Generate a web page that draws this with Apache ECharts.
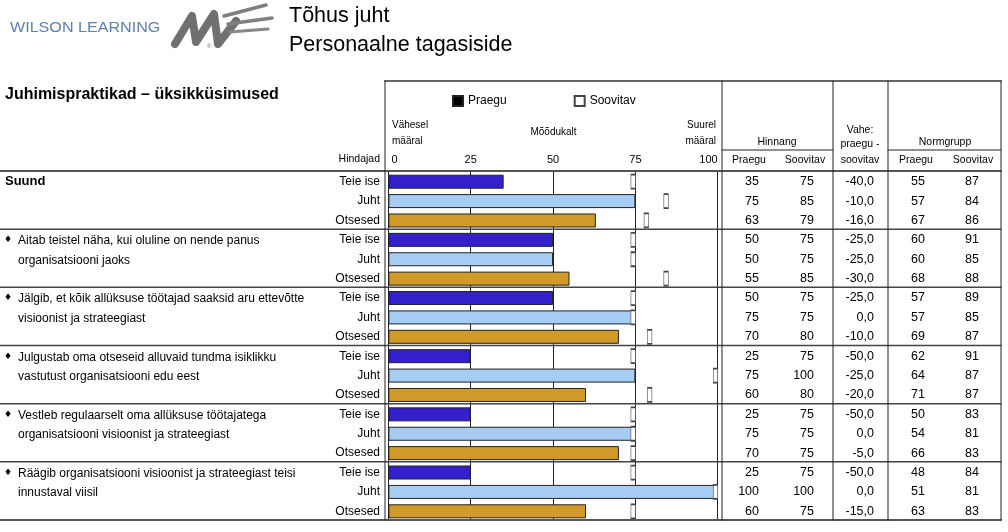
<!DOCTYPE html>
<html><head><meta charset="utf-8">
<script src="https://cdn.jsdelivr.net/npm/echarts@6.0.0/dist/echarts.min.js"></script>
<style>html,body{margin:0;padding:0;background:#fff}#c{width:1008px;height:532px}</style>
</head><body><div id="c"></div>
<script>
// ---- data ----
const raters = ['Teie ise', 'Juht', 'Otsesed'];
const groupTitles = [
  ['Suund'],
  ['Aitab teistel näha, kui oluline on nende panus', 'organisatsiooni jaoks'],
  ['Jälgib, et kõik allüksuse töötajad saaksid aru ettevõtte', 'visioonist ja strateegiast'],
  ['Julgustab oma otseseid alluvaid tundma isiklikku', 'vastutust organisatsiooni edu eest'],
  ['Vestleb regulaarselt oma allüksuse töötajatega', 'organisatsiooni visioonist ja strateegiast'],
  ['Räägib organisatsiooni visioonist ja strateegiast teisi', 'innustaval viisil']
];
const praegu      = [35, 75, 63,  50, 50, 55,  50, 75, 70,  25, 75, 60,  25, 75, 70,  25, 100, 60];
const soovitav    = [75, 85, 79,  75, 75, 85,  75, 75, 80,  75, 100, 80, 75, 75, 75,  75, 100, 75];
const vahe        = [-40, -10, -16, -25, -25, -30, -25, 0, -10, -50, -25, -20, -50, 0, -5, -50, 0, -15];
const normPraegu  = [55, 57, 67,  60, 60, 68,  57, 57, 69,  62, 64, 71,  50, 54, 66,  48, 51, 63];
const normSoovitav= [87, 84, 86,  91, 85, 88,  89, 85, 87,  91, 87, 87,  83, 81, 83,  84, 81, 83];
const xTickInterval = 25;
const raterColors = ['#3320cc', '#a7cdf5', '#d29a28'];

// ---- layout ----
const FONT = 'Liberation Sans, Arial, sans-serif';
const gridLeft = 388.4, gridWidth = 329.3, gridTop = 172, gridHeight = 349;
const gridRight = gridLeft + gridWidth;
const nRows = praegu.length;
const rowH = gridHeight / nRows;
const rowY = i => gridTop + (i + 0.5) * rowH;
const tableTop = 171, groupH = (520 - 171) / 6;

const rowIds = praegu.map((_, i) => String(i));

function colAxis(arr, rightX, fmt) {
  return {
    type: 'category', data: rowIds, inverse: true, gridIndex: 0,
    position: 'right', offset: 0,
    axisLine: {show: false}, axisTick: {show: false}, splitLine: {show: false},
    axisLabel: {
      interval: 0, margin: rightX - gridRight, align: 'right',
      fontSize: 12.5, fontFamily: FONT, color: '#000',
      formatter: (v, i) => fmt ? fmt(arr[i]) : String(arr[i])
    }
  };
}
const fmtVahe = v => v.toFixed(1).replace('.', ',');

const graphic = [];
function line(x1, y1, x2, y2, w, c) {
  graphic.push({type: 'line', silent: true, shape: {x1, y1, x2, y2}, style: {stroke: c, lineWidth: w, lineCap: 'round'}, z: 10});
}
function text(t, x, y, size, opts) {
  opts = opts || {};
  graphic.push({type: 'text', silent: true, x, y, scaleX: opts.scaleX || 1, z: 11, style: {
    text: t, fontSize: size, fontFamily: opts.family || FONT, fontWeight: opts.weight || 'normal',
    fill: opts.color || '#000', align: opts.align || 'left', verticalAlign: 'middle'
  }});
}

// logo
text('WILSON LEARNING', 10, 28, 14, {color: '#5e80a8', scaleX: 1.15});
graphic.push({type: 'polyline', silent: true, shape: {points: [[175,44],[192,16],[196,42],[214,14],[218,44],[236,21]]},
  style: {stroke: '#707070', lineWidth: 8, lineJoin: 'round', lineCap: 'round', fill: null}});
line(224, 16, 266, 5, 3.5, '#808080');
line(228, 24, 272, 18, 3.5, '#808080');
line(230, 32, 268, 29, 3, '#888');
text('®', 207, 46, 6, {color: '#777'});
// titles
text('Tõhus juht', 289, 16.5, 21.5);
text('Personaalne tagasiside', 289, 45, 21.5);
text('Juhimispraktikad – üksikküsimused', 5, 95, 16, {weight: 'bold'});

// header texts
text('Vähesel', 392, 125, 10);
text('määral', 392, 141, 10);
text('Mõõdukalt', 553.5, 132, 10, {align: 'center'});
text('Suurel', 716, 125, 10, {align: 'right'});
text('määral', 716, 141, 10, {align: 'right'});
text('Hindajad', 380, 159, 10.5, {align: 'right'});
text('Hinnang', 777, 142, 10.5, {align: 'center'});
text('Praegu', 749, 160, 10.5, {align: 'center'});
text('Soovitav', 805, 160, 10.5, {align: 'center'});
text('Vahe:', 860, 130, 10.5, {align: 'center'});
text('praegu -', 860, 144, 10.5, {align: 'center'});
text('soovitav', 860, 160, 10.5, {align: 'center'});
text('Normgrupp', 945, 142, 10.5, {align: 'center'});
text('Praegu', 916, 160, 10.5, {align: 'center'});
text('Soovitav', 973, 160, 10.5, {align: 'center'});

// group titles
groupTitles.forEach((lines, g) => {
  if (g === 0) {
    text(lines[0], 5, rowY(0), 13, {weight: 'bold'});
  } else {
    text('♦', 4, rowY(g * 3), 9, {family: 'DejaVu Sans'});
    lines.forEach((ln, k) => text(ln, 18, rowY(g * 3 + k) + 1, 12));
  }
});

// table lines
line(385, 81, 1001, 81, 2, '#666');
line(0, tableTop, 1001, tableTop, 2, '#555');
for (let g = 1; g < 6; g++) line(0, tableTop + g * groupH, 1001, tableTop + g * groupH, 1.5, '#444');
line(0, 520, 1001, 520, 2, '#555');
[385, 722, 833, 888, 1001].forEach(x => line(x, 81, x, 520, 1, '#222'));
line(722, 150, 833, 150, 1, '#222');
line(888, 150, 1001, 150, 1, '#222');

const chart = echarts.init(document.getElementById('c'), null, {renderer: 'canvas'});
chart.setOption({
  animation: false,
  backgroundColor: '#fff',
  textStyle: {fontFamily: FONT},
  legend: {
    left: 447, top: 90, itemWidth: 10, itemHeight: 10, itemGap: 67,
    textStyle: {fontSize: 12, color: '#000', fontFamily: FONT},
    data: [{name: 'Praegu', icon: 'rect'}, {name: 'Soovitav', icon: 'rect'}]
  },
  grid: {left: gridLeft, width: gridWidth, top: gridTop, height: gridHeight, containLabel: false, outerBoundsMode: 'none'},
  xAxis: {
    type: 'value', min: 0, max: 100, interval: xTickInterval, position: 'top',
    axisLine: {show: false}, axisTick: {show: false},
    axisLabel: {margin: 7, fontSize: 11, color: '#000', fontFamily: FONT, alignMinLabel: 'left', alignMaxLabel: 'right',
      padding: [0, 0, 0, 0], formatter: v => (v === 0 ? ' 0' : String(v))},
    splitLine: {show: true, lineStyle: {color: '#222', width: 1}}
  },
  yAxis: [
    {
      type: 'category', data: rowIds, inverse: true,
      axisLine: {show: false}, axisTick: {show: false}, splitLine: {show: false},
      axisLabel: {interval: 0, margin: gridLeft - 380, fontSize: 12, color: '#000', fontFamily: FONT,
        formatter: (v, i) => raters[i % 3]}
    },
    colAxis(praegu, 759),
    colAxis(soovitav, 814),
    colAxis(vahe, 874, fmtVahe),
    colAxis(normPraegu, 925),
    colAxis(normSoovitav, 979)
  ],
  series: [
    {
      name: 'Praegu', type: 'bar', barWidth: 14, silent: true,
      itemStyle: {color: '#000', borderColor: '#222', borderWidth: 1},
      data: praegu.map((v, i) => ({value: v, itemStyle: {color: raterColors[i % 3]}}))
    },
    {
      name: 'Soovitav', type: 'scatter', symbol: 'rect', symbolSize: [4.5, 14], symbolOffset: [-2.2, 0], silent: true, z: 5,
      itemStyle: {color: '#fff', borderColor: '#444', borderWidth: 1, opacity: 1},
      data: soovitav.map((v, i) => [v, i])
    }
  ],
  graphic: graphic
});
</script>
</body></html>
